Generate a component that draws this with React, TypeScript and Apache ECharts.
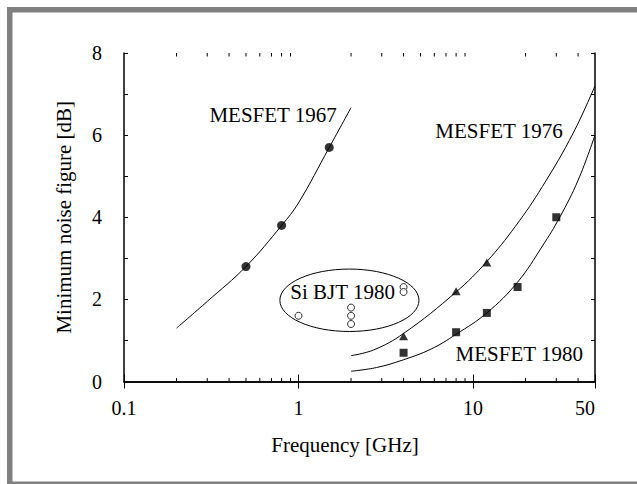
import React, { useEffect, useRef } from 'react';
import * as echarts from 'echarts';

// ---- data ----
const MESFET1967_F = [0.5, 0.8, 1.5];
const MESFET1967_NF = [2.8, 3.8, 5.7];
const FIT1967_F = [0.2, 0.3, 0.5, 0.8, 1.0, 1.5, 2.0];
const FIT1967_NF = [1.3, 1.95, 2.8, 3.8, 4.35, 5.7, 6.67];

const MESFET1976_F = [4, 8, 12];
const MESFET1976_NF = [1.1, 2.2, 2.9];
const FIT1976_F = [2, 2.7, 4, 8, 12, 17.5, 25, 37.5, 50];
const FIT1976_NF = [0.63, 0.77, 1.17, 2.18, 2.92, 3.78, 4.75, 6.05, 7.2];

const MESFET1980_F = [4, 8, 12, 18, 30];
const MESFET1980_NF = [0.7, 1.2, 1.67, 2.3, 4.0];
const FIT1980_F = [2, 2.8, 4, 5.75, 8, 12, 18, 25, 31.4, 40, 50];
const FIT1980_NF = [0.25, 0.34, 0.53, 0.79, 1.15, 1.67, 2.42, 3.3, 4.0, 4.9, 6.0];

const SIBJT1980_F = [1, 2, 2, 2, 4, 4];
const SIBJT1980_NF = [1.6, 1.8, 1.6, 1.4, 2.3, 2.18];

// ellipse around the Si BJT group (data extents)
const ELLIPSE_F = [0.782, 4.9];
const ELLIPSE_NF = [1.218, 2.738];

const LABEL_TEXT = ['MESFET 1967', 'MESFET 1976', 'MESFET 1980', 'Si BJT 1980'];
const LABEL_F = [0.715, 14.1, 18.4, 1.79];
const LABEL_NF = [6.48, 6.1, 0.66, 2.18];

const X_MIN = 0.1;
const X_MAX = 50;
const Y_MIN = 0;
const Y_MAX = 8;
const Y_INTERVAL = 2;
const X_MINOR_TICKS = [0.2, 0.3, 0.4, 0.5, 0.6, 0.7, 0.8, 0.9, 2, 3, 4, 5, 6, 7, 8, 9, 20, 30, 40];

const X_TITLE = 'Frequency [GHz]';
const Y_TITLE = 'Minimum noise figure [dB]';

const FONT = '"Liberation Serif", "Times New Roman", serif';

const pairs = (xs: number[], ys: number[]) => xs.map((x, i) => [x, ys[i]]);

export default function App() {
  const ref = useRef<HTMLDivElement>(null);

  useEffect(() => {
    if (!ref.current) return;
    const chart = echarts.init(ref.current, null, { renderer: 'svg', width: 637, height: 484 });

    const fmt = (v: number) => String(parseFloat(Number(v).toPrecision(6)));

    const axisLine = { show: true, lineStyle: { color: '#000', width: 1.5 } };
    const curveStyle = { color: '#000', width: 1 };

    const option: any = {
      animation: false,
      backgroundColor: '#fff',
      textStyle: { fontFamily: FONT },
      graphic: [
        { type: 'rect', shape: { x: 7, y: 7, width: 5.5, height: 477 }, style: { fill: '#808080' }, silent: true },
        { type: 'rect', shape: { x: 7, y: 7, width: 630, height: 5.5 }, style: { fill: '#808080' }, silent: true },
        { type: 'rect', shape: { x: 7, y: 481.5, width: 630, height: 2.5 }, style: { fill: '#808080' }, silent: true },
      ],
      grid: { left: 124, top: 53, width: 471, height: 328.5, containLabel: false },
      xAxis: [
        {
          type: 'log',
          logBase: 10,
          min: X_MIN,
          max: X_MAX,
          position: 'bottom',
          axisLine,
          axisTick: { show: true, inside: true, length: 7, lineStyle: { color: '#000', width: 1 } },
          axisLabel: { fontSize: 20, color: '#000', margin: 16, fontFamily: FONT, formatter: fmt, alignMaxLabel: 'right' },
          splitLine: { show: false },
          name: X_TITLE,
          nameLocation: 'middle',
          nameGap: 53,
          nameTextStyle: { fontSize: 21, color: '#000', fontFamily: FONT, padding: [0, 29, 0, 0] },
        },
        {
          type: 'log',
          logBase: 10,
          min: X_MIN,
          max: X_MAX,
          position: 'top',
          axisLine,
          axisTick: { show: true, inside: true, length: 7, lineStyle: { color: '#000', width: 1 } },
          axisLabel: { show: false },
          splitLine: { show: false },
        },
      ],
      yAxis: [
        {
          type: 'value',
          min: Y_MIN,
          max: Y_MAX,
          interval: Y_INTERVAL,
          position: 'left',
          axisLine,
          axisTick: { show: true, inside: true, length: 4, lineStyle: { color: '#000', width: 1 } },
          minorTick: { show: true, splitNumber: 2, length: 4, lineStyle: { color: '#000', width: 1 } },
          axisLabel: { fontSize: 20, color: '#000', margin: 22, fontFamily: FONT },
          splitLine: { show: false },
          name: Y_TITLE,
          nameLocation: 'middle',
          nameGap: 50,
          nameTextStyle: { fontSize: 21, color: '#000', fontFamily: FONT },
        },
        {
          type: 'value',
          min: Y_MIN,
          max: Y_MAX,
          interval: Y_INTERVAL,
          position: 'right',
          axisLine,
          axisTick: { show: true, inside: true, length: 4, lineStyle: { color: '#000', width: 1 } },
          minorTick: { show: true, splitNumber: 2, length: 4, lineStyle: { color: '#000', width: 1 } },
          axisLabel: { show: false },
          splitLine: { show: false },
        },
      ],
      series: [
        { type: 'line', data: pairs(FIT1967_F, FIT1967_NF), smooth: 0.4, symbol: 'none', lineStyle: curveStyle, z: 3 },
        { type: 'line', data: pairs(FIT1976_F, FIT1976_NF), smooth: 0.4, symbol: 'none', lineStyle: curveStyle, z: 3 },
        { type: 'line', data: pairs(FIT1980_F, FIT1980_NF), smooth: 0.4, symbol: 'none', lineStyle: curveStyle, z: 3 },
        {
          type: 'scatter', data: pairs(MESFET1967_F, MESFET1967_NF), symbol: 'circle', symbolSize: 9,
          itemStyle: { color: '#000' }, z: 4,
        },
        {
          type: 'scatter', data: pairs(MESFET1976_F, MESFET1976_NF), symbol: 'triangle', symbolSize: [9, 8],
          itemStyle: { color: '#000' }, z: 4,
        },
        {
          type: 'scatter', data: pairs(MESFET1980_F, MESFET1980_NF), symbol: 'rect', symbolSize: 8,
          itemStyle: { color: '#000' }, z: 4,
        },
        {
          type: 'scatter', data: pairs(SIBJT1980_F, SIBJT1980_NF), symbol: 'circle', symbolSize: 7,
          itemStyle: { color: '#fff', borderColor: '#000', borderWidth: 1 }, z: 4,
        },
        {
          type: 'custom',
          data: X_MINOR_TICKS.map((v) => [v, Y_MIN]),
          clip: false,
          z: 5,
          renderItem: (params: any, api: any) => {
            const v = api.value(0);
            const b = api.coord([v, Y_MIN]);
            const t = api.coord([v, Y_MAX]);
            return {
              type: 'group',
              children: [
                { type: 'line', shape: { x1: b[0], y1: b[1], x2: b[0], y2: b[1] - 3.5 }, style: { stroke: '#000', lineWidth: 1 } },
                { type: 'line', shape: { x1: t[0], y1: t[1], x2: t[0], y2: t[1] + 3.5 }, style: { stroke: '#000', lineWidth: 1 } },
              ],
            };
          },
        },
        {
          type: 'custom',
          data: [[ELLIPSE_F[0], ELLIPSE_NF[0], ELLIPSE_F[1], ELLIPSE_NF[1]]],
          clip: false,
          z: 2,
          renderItem: (params: any, api: any) => {
            const p1 = api.coord([api.value(0), api.value(3)]);
            const p2 = api.coord([api.value(2), api.value(1)]);
            return {
              type: 'ellipse',
              shape: { cx: (p1[0] + p2[0]) / 2, cy: (p1[1] + p2[1]) / 2, rx: Math.abs(p2[0] - p1[0]) / 2, ry: Math.abs(p2[1] - p1[1]) / 2 },
              style: { fill: 'none', stroke: '#000', lineWidth: 1 },
            };
          },
        },
        {
          type: 'custom',
          data: LABEL_F.map((f, i) => [f, LABEL_NF[i], i]),
          clip: false,
          z: 6,
          renderItem: (params: any, api: any) => {
            const p = api.coord([api.value(0), api.value(1)]);
            const idx = api.value(2);
            return {
              type: 'text',
              x: p[0],
              y: p[1],
              style: {
                text: LABEL_TEXT[idx],
                fill: '#000',
                fontSize: 21,
                fontFamily: FONT,
                align: 'center',
                verticalAlign: 'middle',
              },
            };
          },
        },
      ],
    };

    chart.setOption(option);
    return () => chart.dispose();
  }, []);

  return (
    <div
      ref={ref}
      style={{ position: 'absolute', left: 0, top: 0, width: 637, height: 484, background: '#fff' }}
    />
  );
}
